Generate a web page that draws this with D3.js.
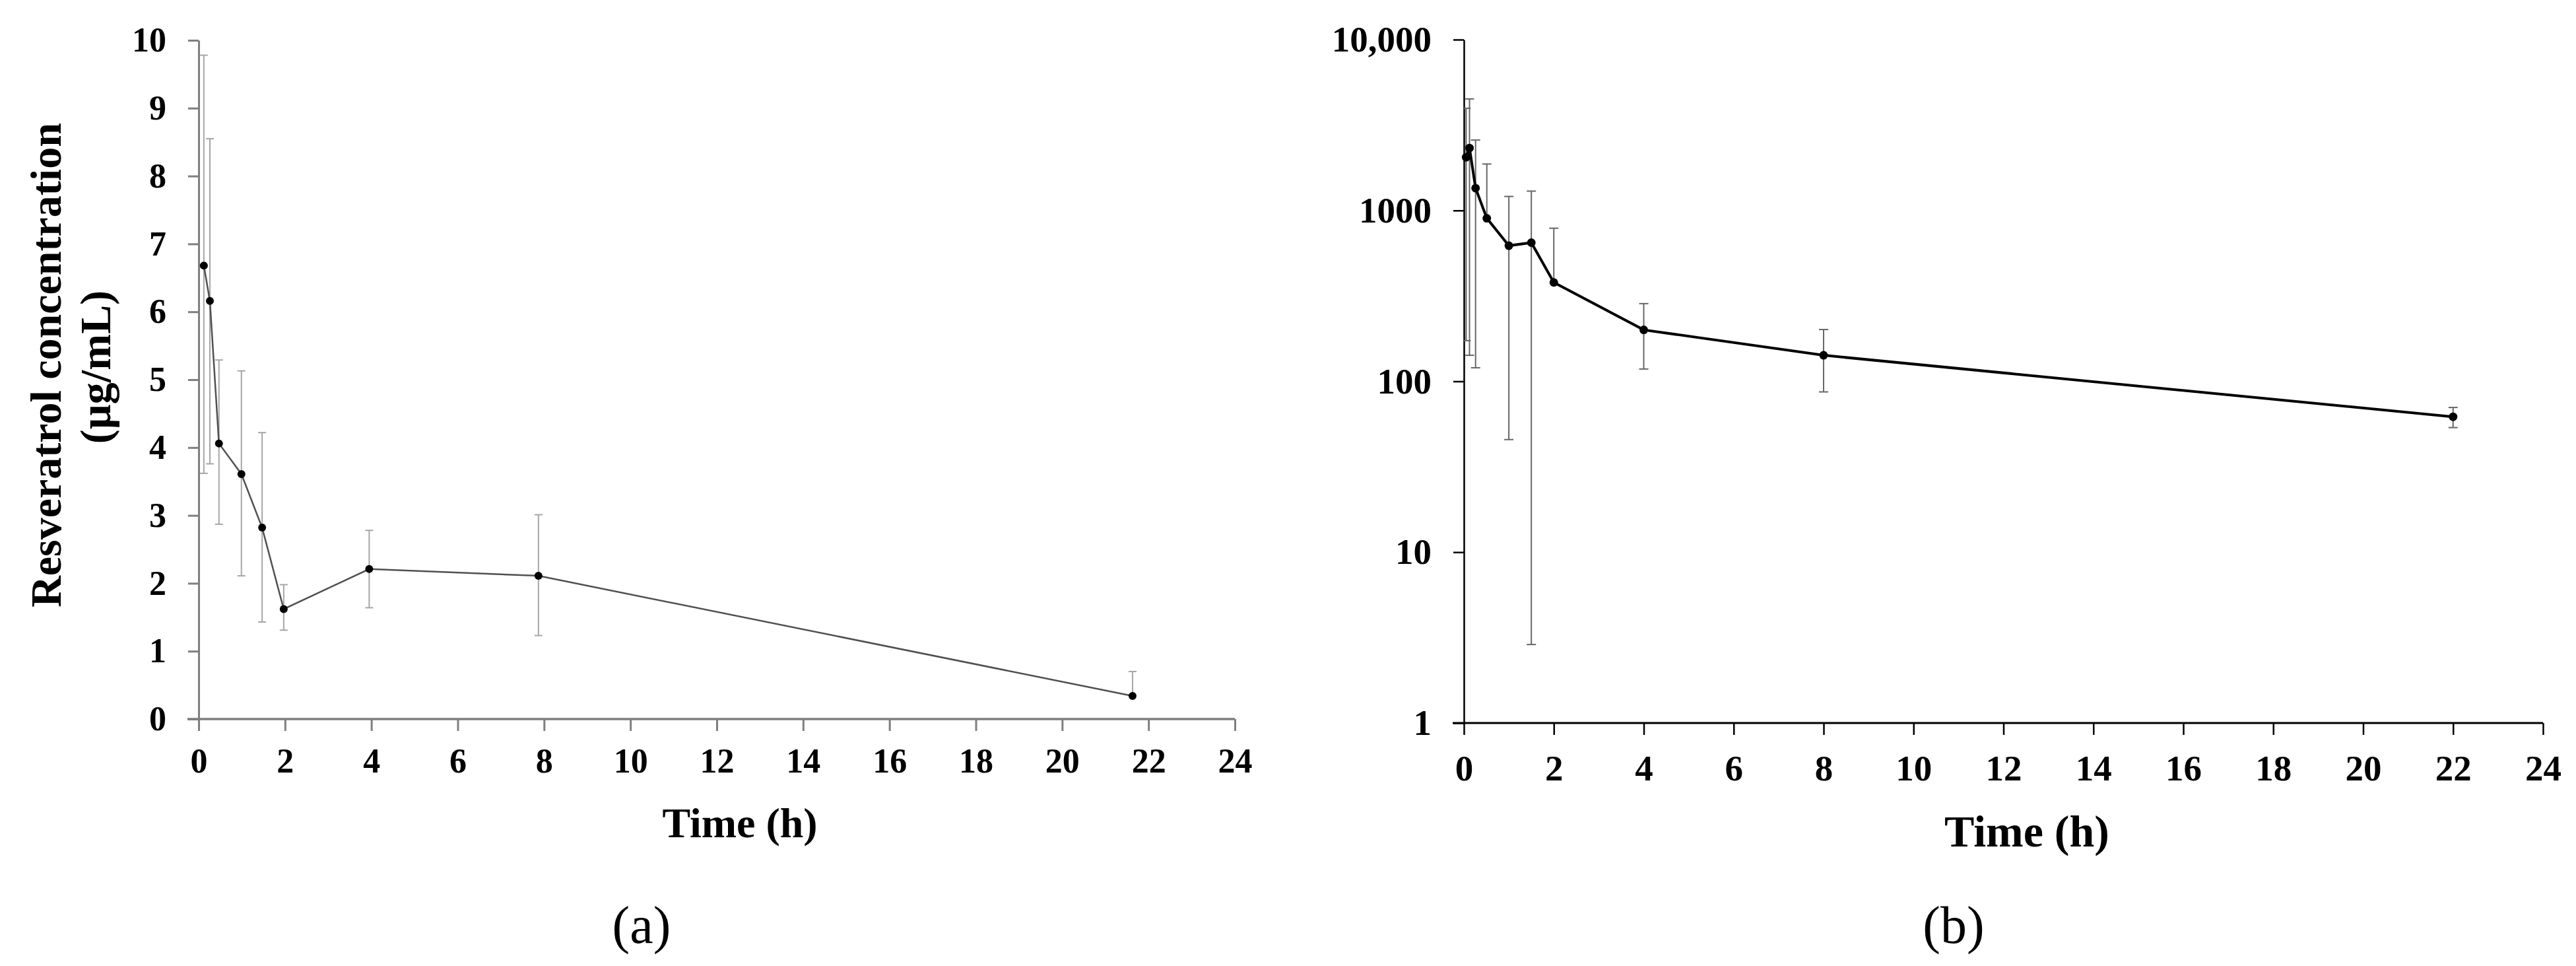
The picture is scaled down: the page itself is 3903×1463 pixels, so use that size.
<!DOCTYPE html>
<meta charset="utf-8">
<head>
<style type="text/css">
body {
  margin: 0;
  background: #fff;
}
.tick text {
  font-family: "Liberation Serif", "Times New Roman", serif;
  font-weight: bold;
  fill: #000;
}
.lbl {
  font-family: "Liberation Serif", "Times New Roman", serif;
  font-weight: bold;
  fill: #000;
}
.panel {
  font-family: "Liberation Serif", "Times New Roman", serif;
  fill: #000;
}
</style>
<script src="https://cdn.jsdelivr.net/npm/d3@7"></script>
</head>
<body>
<div id="graph"></div>
<script>
// panel (a): linear scale, ug/mL
var timeA  = [0.12, 0.26, 0.47, 0.99, 1.47, 1.97, 3.95, 7.87, 21.63];
var concA  = [6.68, 6.16, 4.06, 3.61, 2.82, 1.62, 2.21, 2.11, 0.34];
var upperA = [9.78, 8.55, 5.29, 5.13, 4.22, 1.98, 2.78, 3.01, 0.70];
var lowerA = [3.62, 3.76, 2.87, 2.11, 1.43, 1.31, 1.64, 1.23, null];

// panel (b): log scale
var timeB  = [0.05, 0.125, 0.26, 0.51, 1.0, 1.5, 2.0, 4.0, 8.0, 22.0];
var concB  = [2048, 2321, 1351, 900, 622, 648, 379, 200, 142, 62];
var upperB = [3965, 4497, 2583, 1871, 1208, 1298, 787, 285, 201, 70.3];
var lowerB = [173, 142, 120, null, 45.6, 2.88, null, 118, 86.7, 53.6];

var xTicks = [0, 2, 4, 6, 8, 10, 12, 14, 16, 18, 20, 22, 24];
var yTicksA = [0, 1, 2, 3, 4, 5, 6, 7, 8, 9, 10];
var yTicksB = [1, 10, 100, 1000, 10000];
var yLabelsB = ["1", "10", "100", "1000", "10,000"];

var svg = d3.select("#graph").append("svg")
    .attr("width", 3903)
    .attr("height", 1463);
svg.append("rect").attr("width", 3903).attr("height", 1463).style("fill", "white");

function rows(t, c, u, l) {
  return t.map(function(d, i) { return {t: d, c: c[i], u: u[i], l: l[i]}; });
}

function panel(opt) {
  var g = svg.append("g");
  var x = opt.x, y = opt.y;
  var data = rows(opt.time, opt.conc, opt.upper, opt.lower);

  // axes
  var ax = g.append("g")
      .attr("transform", "translate(0," + y.range()[0] + ")")
      .call(d3.axisBottom(x).tickValues(xTicks).tickSize(18).tickSizeOuter(0).tickPadding(opt.xPad));
  ax.select(".domain").remove();
  ax.selectAll(".tick line").style("stroke", opt.axisColor).style("stroke-width", opt.axisWidth);
  ax.selectAll(".tick text").style("font-size", opt.fs + "px");
  ax.append("line")
      .attr("x1", x.range()[0] - 17).attr("x2", x.range()[1])
      .style("stroke", opt.axisColor).style("stroke-width", opt.axisWidth + 0.5);

  var ay = g.append("g")
      .attr("transform", "translate(" + x.range()[0] + ",0)")
      .call(d3.axisLeft(y).tickValues(opt.yTicks).tickSize(16).tickSizeOuter(0).tickPadding(33)
        .tickFormat(function(d, i) { return opt.yLabels ? opt.yLabels[i] : d; }));
  ay.select(".domain").style("stroke", opt.axisColor).style("stroke-width", opt.axisWidth);
  ay.selectAll(".tick line").style("stroke", opt.axisColor).style("stroke-width", opt.axisWidth);
  ay.selectAll(".tick text").style("font-size", opt.fs + "px");

  // error bars
  var clipId = "clip" + opt.name;
  g.append("clipPath").attr("id", clipId).append("rect")
      .attr("x", x.range()[0]).attr("y", y.range()[1] - 10)
      .attr("width", x.range()[1] - x.range()[0])
      .attr("height", y.range()[0] - y.range()[1] + 10);
  var eb = g.append("g").attr("clip-path", "url(#" + clipId + ")")
      .style("stroke", opt.barColor).style("stroke-width", opt.barWidth);
  eb.selectAll(".bar").data(data).enter().append("line")
      .attr("x1", d => x(d.t)).attr("x2", d => x(d.t))
      .attr("y1", d => y(d.u))
      .attr("y2", d => y(d.l == null ? d.c : d.l));
  eb.selectAll(".capu").data(data).enter().append("line")
      .attr("x1", d => x(d.t) - opt.cap).attr("x2", d => x(d.t) + opt.cap)
      .attr("y1", d => y(d.u)).attr("y2", d => y(d.u));
  eb.selectAll(".capl").data(data.filter(d => d.l != null)).enter().append("line")
      .attr("x1", d => x(d.t) - opt.cap).attr("x2", d => x(d.t) + opt.cap)
      .attr("y1", d => y(d.l)).attr("y2", d => y(d.l));

  // mean line and markers
  g.append("path")
      .datum(data)
      .attr("d", d3.line().x(d => x(d.t)).y(d => y(d.c)))
      .style("fill", "none")
      .style("stroke", opt.lineColor)
      .style("stroke-width", opt.lineWidth);
  g.selectAll(".pt").data(data).enter().append("circle")
      .attr("cx", d => x(d.t)).attr("cy", d => y(d.c))
      .attr("r", opt.r)
      .style("fill", "#000");
  return g;
}

panel({
  name: "a",
  x: d3.scaleLinear().domain([0, 24]).range([301, 1871]),
  y: d3.scaleLinear().domain([0, 10]).range([1089, 61]),
  time: timeA, conc: concA, upper: upperA, lower: lowerA,
  yTicks: yTicksA, fs: 52, xPad: 26,
  axisColor: "#7f7f7f", axisWidth: 3,
  barColor: "#a6a6a6", barWidth: 2, cap: 6,
  lineColor: "#505050", lineWidth: 2.5, r: 6
});

panel({
  name: "b",
  x: d3.scaleLinear().domain([0, 24]).range([2218, 3853]),
  y: d3.scaleLog().domain([1, 10000]).range([1095, 60]),
  time: timeB, conc: concB, upper: upperB, lower: lowerB,
  yTicks: yTicksB, yLabels: yLabelsB, fs: 55, xPad: 30,
  axisColor: "#000", axisWidth: 2.5,
  barColor: "#666", barWidth: 2, cap: 7,
  lineColor: "#000", lineWidth: 4, r: 6.5
});

// axis titles
svg.append("text").attr("class", "lbl")
    .attr("transform", "translate(92,553) rotate(-90)")
    .attr("text-anchor", "middle")
    .style("font-size", "66px")
    .text("Resveratrol concentration");
svg.append("text").attr("class", "lbl")
    .attr("transform", "translate(167,556) rotate(-90)")
    .attr("text-anchor", "middle")
    .style("font-size", "66px")
    .text("(µg/mL)");
svg.append("text").attr("class", "lbl")
    .attr("x", 1121).attr("y", 1268)
    .attr("text-anchor", "middle")
    .style("font-size", "64px")
    .text("Time (h)");
svg.append("text").attr("class", "lbl")
    .attr("x", 3071).attr("y", 1282)
    .attr("text-anchor", "middle")
    .style("font-size", "68px")
    .text("Time (h)");

// panel letters
svg.append("text").attr("class", "panel")
    .attr("x", 972).attr("y", 1428)
    .attr("text-anchor", "middle")
    .style("font-size", "80px")
    .text("(a)");
svg.append("text").attr("class", "panel")
    .attr("x", 2960).attr("y", 1428)
    .attr("text-anchor", "middle")
    .style("font-size", "80px")
    .text("(b)");
</script>
</body>
</html>
